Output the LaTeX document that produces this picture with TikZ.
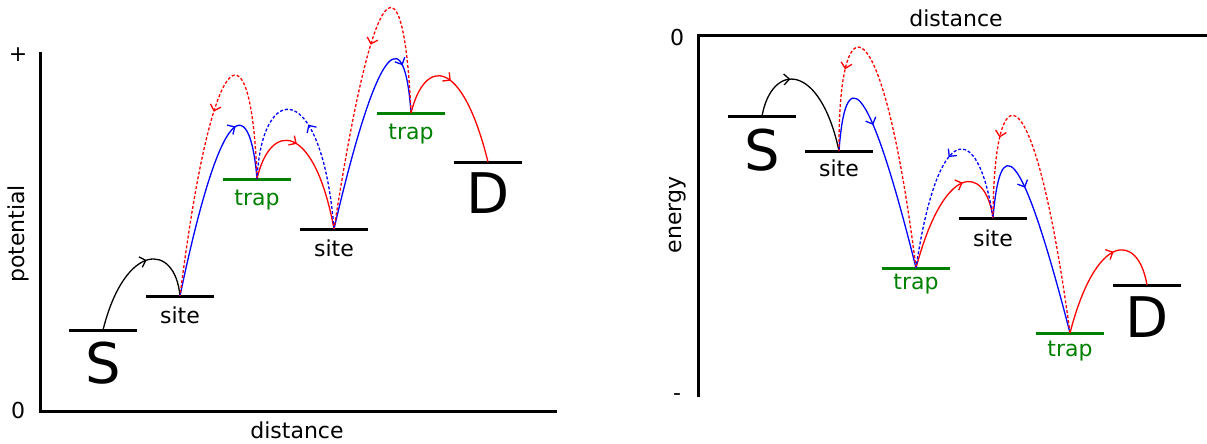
\documentclass[tikz,border=0pt]{standalone}
\usepackage{fontspec}
\setmainfont{DejaVu Sans}
\usetikzlibrary{arrows.meta,decorations.markings}
\definecolor{tgreen}{RGB}{0,128,0}
\begin{document}
\begin{tikzpicture}[x=1pt,y=-1pt,
  axis/.style={line width=3pt},
  lvl/.style={line width=3pt},
  trapl/.style={line width=3pt,draw=tgreen},
  hop/.style={line width=1.3pt},
  dot/.style={dash pattern=on 3pt off 2pt},
  lab/.style={font=\fontsize{22}{26}\selectfont,inner sep=0pt},
  bl/.style={lab,anchor=base},
  big/.style={font=\fontsize{56}{60}\selectfont,anchor=base,inner sep=0pt},
  arr/.style={postaction={decorate},decoration={markings,mark=at position #1 with {\arrow{Straight Barb[length=5.5pt,width=11pt,line width=1.3pt]}}}},
]
\useasboundingbox (0,0) rectangle (1207,444);

% ---------------- left diagram ----------------
\coordinate (LO) at (40,411);
\coordinate (LY) at (40,52);
\coordinate (LX) at (557,411);
\draw[axis] (LY) -- (LO) -- (LX);
\node[lab] (lplus) at (18,55) {+};
\node[lab] (lzero) at (18,410) {0};
\node[lab,rotate=90] (lpot) at (18,234) {potential};
\node[lab] (ldist) at (297,430) {distance};

\coordinate (LS) at (103,330);
\coordinate (Ls1) at (180,296);
\coordinate (Lt1) at (257,179);
\coordinate (Ls2) at (334,229);
\coordinate (Lt2) at (411,113);
\coordinate (LD) at (488,162);

\draw[lvl] (LS) +(-34,0) -- +(34,0);
\draw[lvl] (Ls1) +(-34,0) -- +(34,0);
\draw[trapl] (Lt1) +(-34,0) -- +(34,0);
\draw[lvl] (Ls2) +(-34,0) -- +(34,0);
\draw[trapl] (Lt2) +(-34,0) -- +(34,0);
\draw[lvl] (LD) +(-34,0) -- +(34,0);

\node[big] (lSl) at (103,383) {S};
\node[bl] (ls1l) at (180,323) {site};
\node[bl,text=tgreen] (lt1l) at (257,205) {trap};
\node[bl] (ls2l) at (334,256) {site};
\node[bl,text=tgreen] (lt2l) at (411,139) {trap};
\node[big] (lDl) at (488,213) {D};

\draw[hop,arr=0.6] (LS) .. controls (125,242) and (175,242) .. (Ls1);
\draw[hop,blue,arr=0.74] (Ls1) .. controls (222,94) and (250,94) .. (Lt1);
\draw[hop,red,dot,arr=0.45] (Lt1) .. controls (252,25) and (214,25) .. (Ls1);
\draw[hop,red,arr=0.40] (Lt1) .. controls (270,121) and (314,121) .. (Ls2);
\draw[hop,blue,dot,arr=0.5] (Ls2) .. controls (322,79) and (262,79) .. (Lt1);
\draw[hop,blue,arr=0.8] (Ls2) .. controls (381,27) and (405,27) .. (Lt2);
\draw[hop,red,dot,arr=0.45] (Lt2) .. controls (404,-43) and (376,-43) .. (Ls2);
\draw[hop,red,arr=0.41] (Lt2) .. controls (425,57) and (462,57) .. (LD);

% ---------------- right diagram ----------------
\coordinate (RO) at (698,36);
\coordinate (RY) at (698,397);
\coordinate (RX) at (1207,36);
\draw[axis] (RY) -- (RO) -- (RX);
\node[lab] (rzero) at (677,37) {0};
\node[lab] (rminus) at (677,397) {-};
\node[lab,rotate=90] (rene) at (678,215) {energy};
\node[lab] (rdist) at (956,18) {distance};

\coordinate (RS) at (762,116);
\coordinate (Rs1) at (839,151);
\coordinate (Rt1) at (916,268);
\coordinate (Rs2) at (993,218);
\coordinate (Rt2) at (1070,333);
\coordinate (RD) at (1147,285);

\draw[lvl] (RS) +(-34,0) -- +(34,0);
\draw[lvl] (Rs1) +(-34,0) -- +(34,0);
\draw[trapl] (Rt1) +(-34,0) -- +(34,0);
\draw[lvl] (Rs2) +(-34,0) -- +(34,0);
\draw[trapl] (Rt2) +(-34,0) -- +(34,0);
\draw[lvl] (RD) +(-34,0) -- +(34,0);

\node[big] (rSl) at (762,170) {S};
\node[bl] (rs1l) at (839,176) {site};
\node[bl,text=tgreen] (rt1l) at (916,289) {trap};
\node[bl] (rs2l) at (993,246) {site};
\node[bl,text=tgreen] (rt2l) at (1070,356) {trap};
\node[big] (rDl) at (1147,337) {D};

\draw[hop,arr=0.35] (RS) .. controls (772,62) and (820,62) .. (Rs1);
\draw[hop,blue,arr=0.38] (Rs1) .. controls (845,67) and (866,67) .. (Rt1);
\draw[hop,red,dot,arr=0.76] (Rt1) .. controls (882,-3) and (838,-3) .. (Rs1);
\draw[hop,red,arr=0.65] (Rt1) .. controls (944,163) and (985,163) .. (Rs2);
\draw[hop,blue,dot,arr=0.45] (Rs2) .. controls (978,119) and (938,119) .. (Rt1);
\draw[hop,blue,arr=0.36] (Rs2) .. controls (1000,135) and (1019,135) .. (Rt2);
\draw[hop,red,dot,arr=0.76] (Rt2) .. controls (1034,66) and (994,66) .. (Rs2);
\draw[hop,red,arr=0.63] (Rt2) .. controls (1096,232) and (1138,232) .. (RD);
\end{tikzpicture}
\end{document}
